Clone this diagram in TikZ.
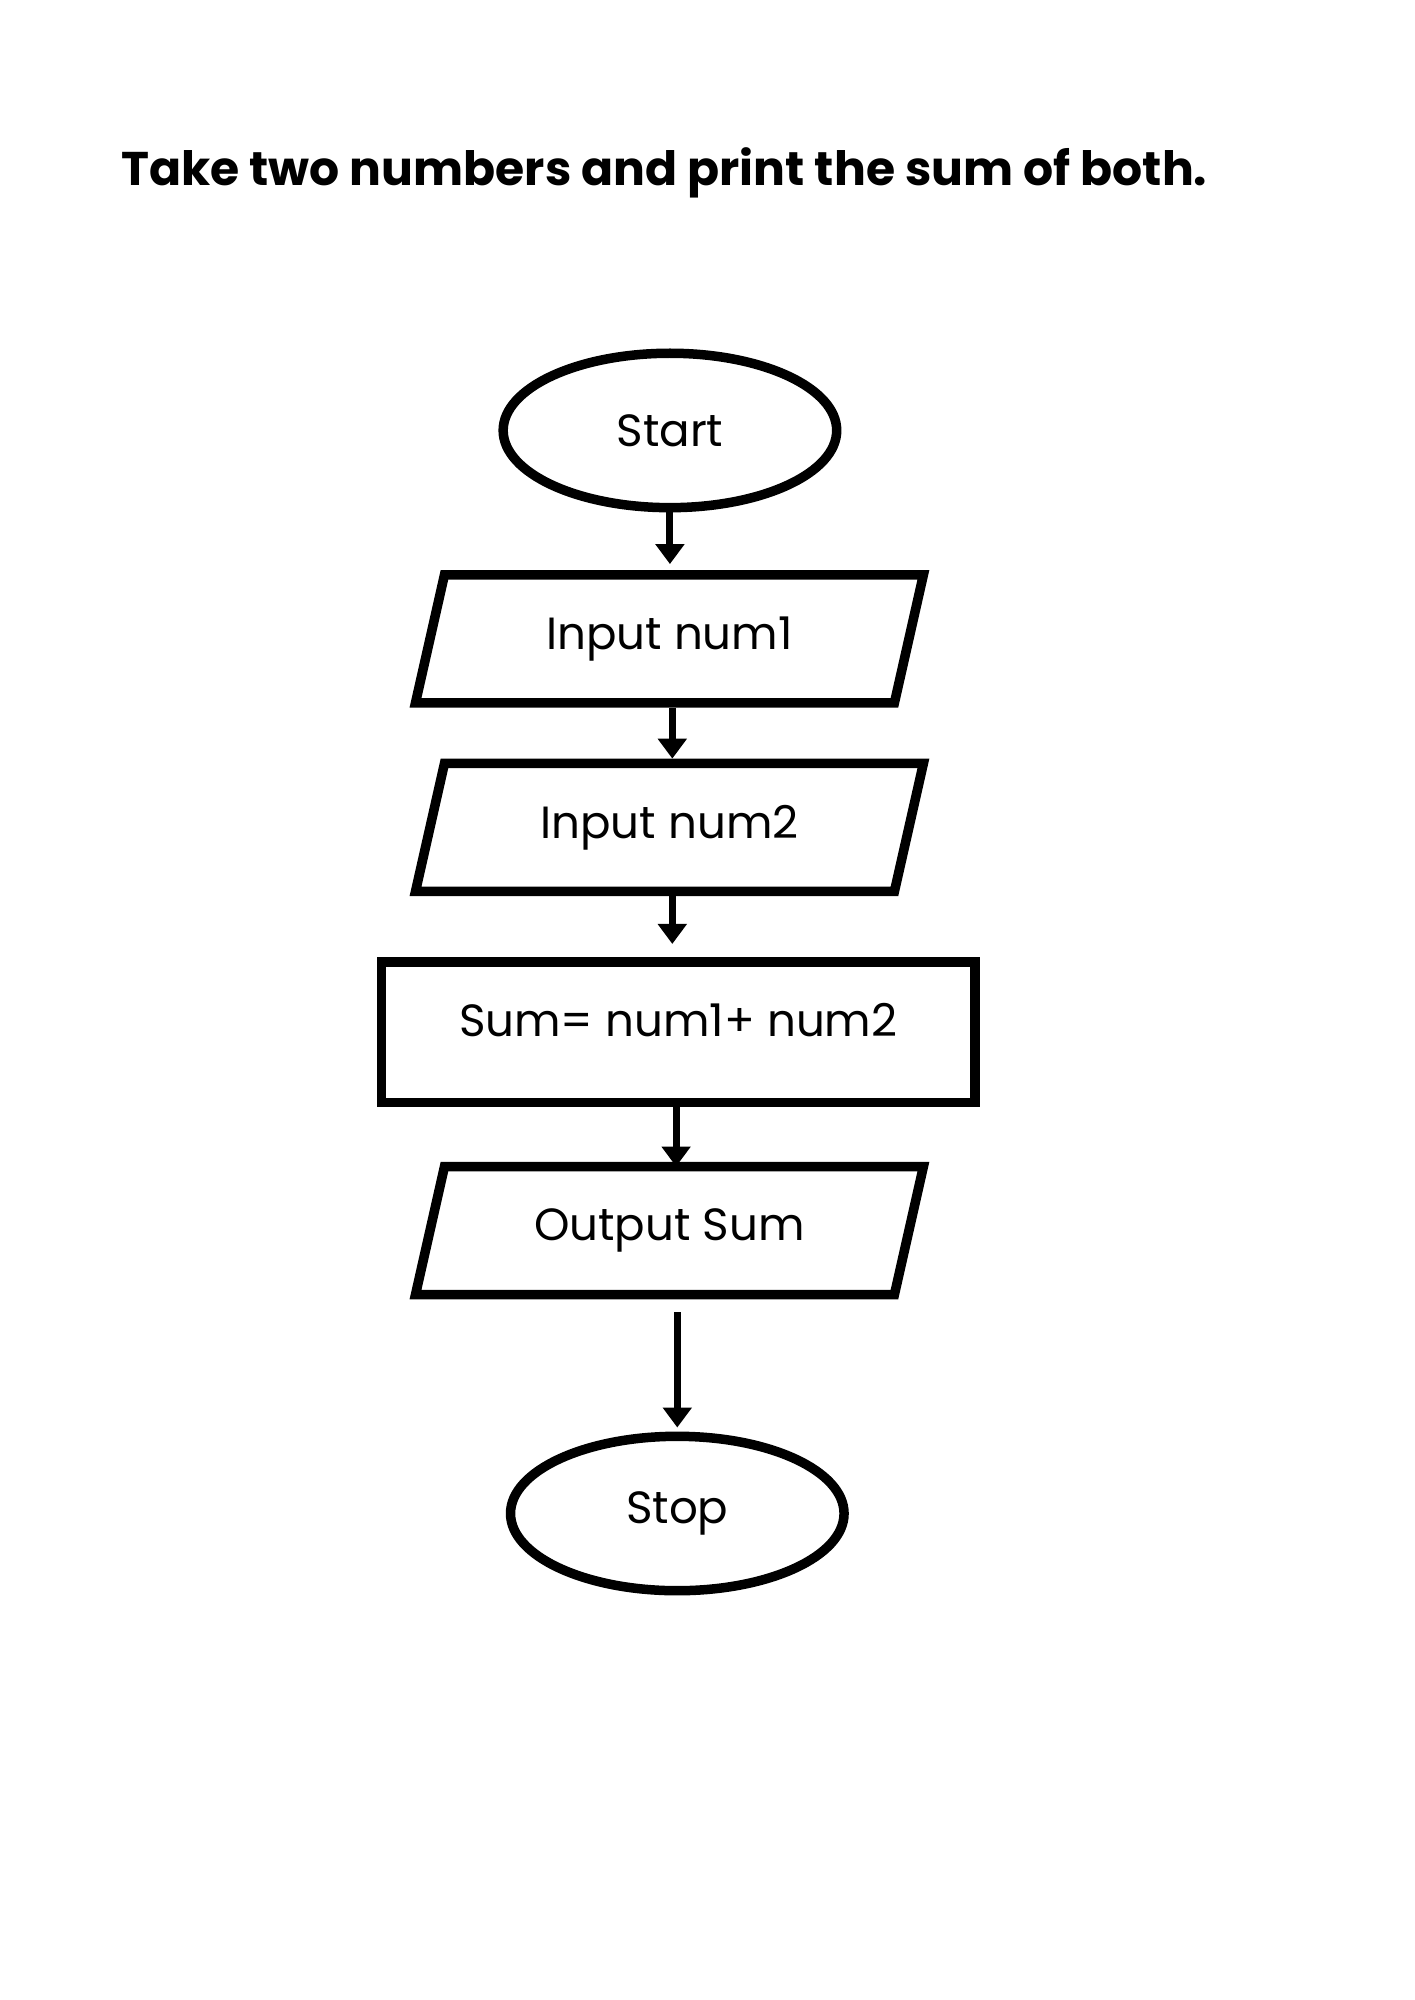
\documentclass[tikz,border=0pt]{standalone}
\usepackage{fontspec}
\setmainfont{Poppins}
\usetikzlibrary{arrows.meta,positioning,shapes.geometric}

\begin{document}
\begin{tikzpicture}[
    x=1pt, y=1pt,
    boxtext/.style={font=\fontsize{19}{23}\selectfont},
    term/.style={ellipse, draw=black, line width=4pt, minimum width=140.4pt, minimum height=65pt, boxtext},
    io/.style={rectangle, outer sep=0pt, minimum width=201.6pt, minimum height=53.9pt, boxtext},
    ioline/.style={draw=black, line width=4pt},
    proc/.style={rectangle, draw=black, line width=4pt, minimum width=249.7pt, minimum height=59.3pt, text depth=10pt, boxtext},
    flow/.style={-{Triangle[length=8.4pt, width=11.8pt]}, line width=2.9pt},
]
    \useasboundingbox (0,0) rectangle (595.28,-841.89);

    \node[anchor=base west, font=\fontsize{19.9}{24}\selectfont\bfseries] (title) at (47.5,-78) {Take two numbers and print the sum of both.};

    \node[term] (start) at (282,-181.2) {Start};
    \node[io] (in1) at (281.8,-268.9) {Input num1};
    \node[io] (in2) at (281.8,-348.3) {Input num2};
    \node[proc] (sum) at (285.5,-434.5) {Sum= num1+ num2};
    \node[io] (out) at (281.8,-518.0) {Output Sum};
    \node[term] (stop) at (285.1,-637.1) {Stop};

    % Slanted input/output boxes
    \foreach \n in {in1,in2,out}
        \draw[ioline] ([xshift=6.1pt]\n.north west) -- ([xshift=6.1pt]\n.north east)
            -- ([xshift=-6.1pt]\n.south east) -- ([xshift=-6.1pt]\n.south west) -- cycle;

    % Flow arrows
    \draw[flow, shorten >=4.5pt] (start) -- (start |- in1.north);
    \draw[flow, shorten <=2pt, shorten >=2pt] (in1.south -| 283,0) -- (in2.north -| 283,0);
    \draw[flow, shorten <=2pt, shorten >=5.5pt] (in2.south -| 283,0) -- (sum.north -| 283,0);
    \draw[flow] (sum.south -| 284.6,0) -- (out.north -| 284.6,0);
    \draw[flow, shorten <=7.5pt, shorten >=1.7pt] (stop |- out.south) -- (stop);
\end{tikzpicture}
\end{document}
